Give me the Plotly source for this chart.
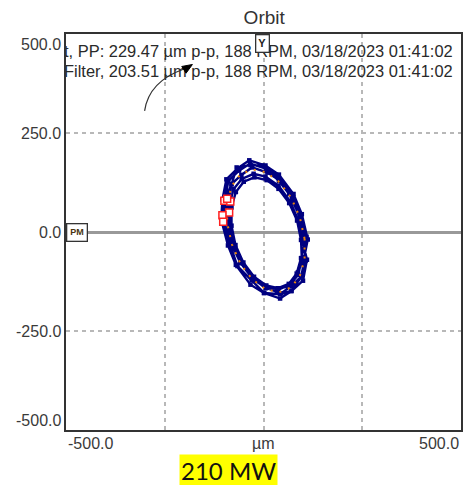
import plotly.graph_objects as go

# ---------------- data ----------------
# direct orbit, six revolutions (µm)
loop_a_x = [98, 87, 67, 38, 5, -25, -55, -76, -87, -86, -76, -53, -27, 6, 37, 67, 88, 97]
loop_a_y = [-19, 32, 78, 117, 140, 147, 134, 108, 66, 19, -30, -79, -117, -138, -146, -133, -108, -66]
loop_b_x = [106, 93, 73, 41, 10, -29, -56, -81, -90, -92, -77, -57, -23, 8, 44, 71, 96, 104]
loop_b_y = [-18, 40, 87, 130, 150, 163, 144, 121, 73, 26, -34, -78, -122, -141, -155, -136, -112, -65]
loop_c_x = [109, 95, 74, 38, 6, -34, -62, -89, -98, -102, -86, -66, -30, 2, 42, 70, 97, 107]
loop_c_y = [-12, 44, 92, 139, 160, 173, 155, 129, 79, 30, -28, -86, -122, -154, -157, -149, -112, -72]
loop_d_x = [99, 91, 65, 39, -3, -33, -68, -81, -97, -93, -85, -59, -33, 5, 35, 69, 87, 103]
loop_d_y = [-9, 41, 96, 129, 168, 169, 163, 120, 83, 26, -22, -77, -111, -142, -143, -137, -102, -64]
loop_e_x = [95, 85, 65, 38, 8, -23, -50, -70, -81, -81, -71, -51, -24, 7, 37, 64, 84, 95]
loop_e_y = [-20, 29, 73, 109, 131, 138, 127, 101, 62, 16, -33, -77, -113, -135, -142, -131, -105, -66]
loop_f_x = [112, 97, 76, 39, 5, -36, -65, -94, -104, -107, -90, -70, -33, 1, 42, 71, 100, 110]
loop_f_y = [-19, 45, 96, 145, 168, 181, 161, 133, 82, 31, -34, -83, -133, -154, -168, -149, -123, -70]
orbit_x = loop_a_x + loop_e_x + loop_b_x + loop_c_x + loop_d_x + loop_f_x + [loop_a_x[0]]
orbit_y = loop_a_y + loop_e_y + loop_b_y + loop_c_y + loop_d_y + loop_f_y + [loop_a_y[0]]

# filtered (1X) orbit
filt_x = [104, 92, 70, 40, 6, -28, -58, -80, -92, -92, -80, -58, -28, 6, 40, 70, 92, 104, 104]
filt_y = [-17, 37, 87, 126, 151, 158, 146, 117, 75, 23, -31, -81, -120, -145, -152, -140, -111, -69, -17]

# keyphasor marks
kp_x = [-99, -84, -87, -104, -102, -92]
kp_y = [79, 77, 49, 42, 26, 84]

# axis
x_range = [-500, 500]
y_range = [-500, 500]
grid_vals = [-250, 0, 250]
y_tick_vals = [500, 250, 0, -250, -500]
y_tick_text = ["500.0", "250.0", "0.0", "-250.0", "-500.0"]
x_tick_vals = [-500, 0, 500]
x_tick_text = ["-500.0", "µm", "500.0"]

# info lines
info_lines = [
    "Direct, PP: 229.47 µm p-p, 188 RPM, 03/18/2023 01:41:02",
    "1X Filter, 203.51 µm p-p, 188 RPM, 03/18/2023 01:41:02",
]
info_x = [479, 479]
info_y = [452, 402]

# arrow (curve + head) in data units
arrow_curve = [(-301, 306), (-290, 380), (-203, 411)]
arrow_head = [(-207, 418), (-180, 423), (-196, 401)]

title = "Orbit"
caption = "210 MW"

# ---------------- figure ----------------
fig = go.Figure()

fig.add_trace(go.Scatter(
    x=orbit_x, y=orbit_y, mode="lines+markers",
    line=dict(color="#000080", width=2.4),
    marker=dict(color="#000080", size=4.5, symbol="square"),
    hoverinfo="skip", showlegend=False))

fig.add_trace(go.Scatter(
    x=filt_x, y=filt_y, mode="lines",
    line=dict(color="#e8840c", width=2, dash="2px,7px"),
    hoverinfo="skip", showlegend=False))

fig.add_trace(go.Scatter(
    x=kp_x, y=kp_y, mode="markers",
    marker=dict(symbol="square", size=7, color="white", line=dict(width=1.5, color="#ff2020")),
    hoverinfo="skip", showlegend=False))

fig.add_trace(go.Scatter(
    x=info_x, y=info_y, mode="text", text=info_lines,
    textposition="middle left", cliponaxis=True,
    textfont=dict(family="Liberation Sans, Arial", size=16.45, color="#2a2a2a"),
    hoverinfo="skip", showlegend=False))

(p0, p1, p2) = arrow_curve
fig.add_shape(type="path", xref="x", yref="y",
              path=f"M {p0[0]},{p0[1]} Q {p1[0]},{p1[1]} {p2[0]},{p2[1]}",
              line=dict(color="#333", width=1.2))
(h0, h1, h2) = arrow_head
fig.add_shape(type="path", xref="x", yref="y",
              path=f"M {h0[0]},{h0[1]} L {h1[0]},{h1[1]} L {h2[0]},{h2[1]} Z",
              line=dict(color="#000", width=1), fillcolor="#000")

tick_font = dict(family="Liberation Sans, Arial", size=16, color="#3a3a3a")
annotations = []
for v, t in zip(y_tick_vals, y_tick_text):
    shift = -10 if v == 500 else (10 if v == -500 else 0)
    annotations.append(dict(x=0, xref="paper", y=v, yref="y", text=t,
                            xanchor="right", yanchor="middle", xshift=-3, yshift=shift,
                            showarrow=False, font=tick_font))
for v, t, anc in zip(x_tick_vals, x_tick_text, ["left", "center", "right"]):
    annotations.append(dict(x=v, xref="x", y=0, yref="paper", text=t,
                            xanchor=anc, yanchor="top", yshift=-3, showarrow=False,
                            font=tick_font))
annotations.append(dict(x=-3, xref="x", y=1, yref="paper", text="<b>Y</b>",
                        xanchor="center", yanchor="top", showarrow=False,
                        bgcolor="white", bordercolor="#333", borderwidth=1.3, borderpad=2,
                        font=dict(family="Liberation Sans, Arial", size=11, color="#222")))
annotations.append(dict(x=0, xref="paper", y=0, yref="y", text="<b>PM</b>",
                        xanchor="left", yanchor="middle", showarrow=False,
                        bgcolor="white", bordercolor="#333", borderwidth=1.3, borderpad=3,
                        font=dict(family="Liberation Sans, Arial", size=9, color="#4a3510")))
annotations.append(dict(x=-89, xref="x", y=0, yref="paper", text=caption,
                        xanchor="center", yanchor="top", yshift=-24, showarrow=False,
                        bgcolor="#ffff00", borderpad=1,
                        font=dict(family="Lato, Open Sans", size=24, color="#111")))

fig.update_layout(
    width=465, height=477,
    margin=dict(l=58, r=10, t=26, b=55),
    paper_bgcolor="white", plot_bgcolor="white",
    title=dict(text=title, x=0.551, xanchor="center", y=0.981, yanchor="middle",
               font=dict(family="Liberation Sans, Arial", size=19, color="#333")),
    annotations=annotations,
    showlegend=False,
    hovermode=False,
)
fig.update_xaxes(range=x_range, tickvals=grid_vals, showticklabels=False, ticks="",
                 showgrid=True, gridcolor="#b8b8b8", griddash="4px,4px", gridwidth=1.5,
                 zeroline=False, showline=True, mirror=True, linecolor="#333", linewidth=1.5,
                 fixedrange=True)
fig.update_yaxes(range=y_range, tickvals=grid_vals, showticklabels=False, ticks="",
                 showgrid=True, gridcolor="#b8b8b8", griddash="4px,4px", gridwidth=1.5,
                 zeroline=True, zerolinecolor="#999", zerolinewidth=2.5,
                 showline=True, mirror=True, linecolor="#333", linewidth=1.5,
                 fixedrange=True)

fig.write_html("out.html")
